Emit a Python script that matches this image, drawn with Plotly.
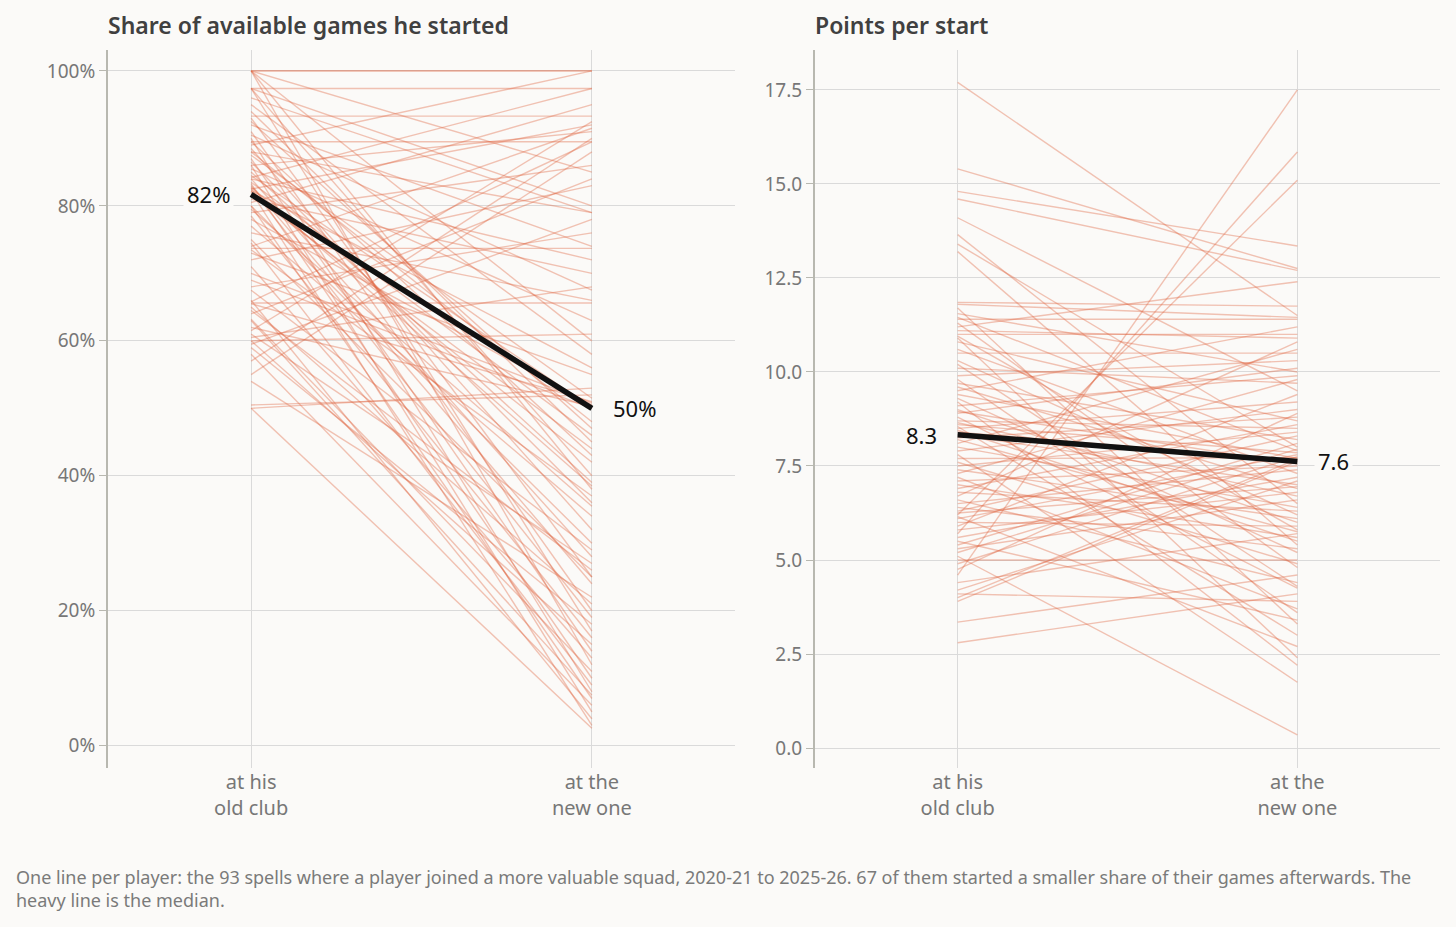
import numpy as np
import plotly.graph_objects as go
from plotly.subplots import make_subplots

# share of available games started, old club -> new club (%), one pair per player
share_old = [100, 100, 89, 97.4, 84.2, 80.5, 93.3, 61.5, 82.5, 74,
             86, 57, 89.5, 65.8, 55, 79, 64, 72, 59.5, 68,
             73.7, 60.5, 65.6, 60, 50, 50.5,
             100, 97.4, 96, 88, 92, 84, 81, 90.5, 76, 85.5,
             100, 95, 82.3, 73, 87.5, 65.5, 70, 78, 62, 84.5, 69,
             100, 100, 97.4, 97.4, 94, 93, 92.5, 91, 90, 89.5,
             88.5, 88, 87, 86.5, 86, 85, 84, 83.5, 83.3, 83,
             82.8, 82.6, 82.2, 82.1, 81.7, 80, 80, 79.5, 78.5, 77,
             75, 74.5, 73.5, 71, 67.5, 66, 65, 64.5, 63.2, 63,
             61, 60, 59, 58, 54, 50]
share_new = [100, 100, 100, 97.4, 97.4, 95, 93.3, 92.5, 92, 91.5,
             91, 90, 89.5, 89.5, 88, 86, 84, 83, 78, 76,
             73.7, 68, 65.6, 61, 53, 52,
             85, 80, 79, 79, 74, 72, 70, 67.5, 66, 63,
             60, 58, 56, 55, 51.5, 51, 50.8, 50.5, 50.3, 50.1, 50.0,
             38, 12, 40, 17, 45, 25, 47, 20, 8, 43,
             32, 48, 14, 36, 5, 39, 28, 46, 10, 24,
             38.5, 19, 42, 3, 44, 30, 7, 35.5, 16, 34,
             25, 9, 37, 13, 29, 4, 21, 26, 11, 7.5,
             27, 15, 18, 6, 22, 2.6]

# points per start, old club -> new club
pts_old = [17.7, 15.4, 14.8, 14.6, 14.1, 13.65, 13.4, 13.2, 11.85, 11.8,
           11.7, 11.55, 11.45, 11.4, 11.3, 11.2, 11.1, 11.0, 10.95, 10.9,
           10.8, 10.6, 10.5, 10.3, 10.2, 10.1, 9.9, 9.8, 9.7, 9.6,
           9.5, 9.4, 9.3, 9.2, 9.1, 9.0, 8.95, 8.9, 8.8, 8.7,
           8.65, 8.6, 8.55, 8.5, 8.45, 8.4, 8.33,
           8.25, 8.2, 8.1, 8.0, 7.9, 7.8, 7.7, 7.6, 7.5, 7.4,
           7.3, 7.2, 7.1, 7.0, 6.9, 6.8, 6.7, 6.6, 6.5, 6.4,
           6.3, 6.25, 6.2, 6.15, 6.1, 6.0, 5.9, 5.8, 5.7, 5.6,
           5.5, 5.4, 5.3, 5.2, 5.1, 5.0, 4.9, 4.75, 4.6, 4.4,
           4.2, 4.1, 4.0, 3.9, 3.35, 2.8]
pts_new = [11.5, 12.75, 13.35, 12.7, 9.5, 6.5, 8.0, 5.4, 11.75, 11.45,
           3.3, 10.0, 7.9, 11.4, 4.8, 12.4, 10.9, 11.0, 5.8, 2.4,
           8.7, 7.3, 10.5, 6.2, 4.3, 9.7, 10.3, 3.6, 8.2, 6.9,
           11.2, 7.7, 5.2, 2.2, 9.9, 6.0, 7.55, 10.1, 4.25, 8.5,
           6.7, 7.85, 3.0, 9.2, 5.5, 7.65, 7.0,
           8.8, 5.75, 10.6, 6.4, 9.0, 1.75, 7.72, 4.9, 8.4, 6.1,
           9.8, 3.7, 7.5, 5.6, 8.6, 6.3, 10.8, 4.4, 7.4, 5.3,
           8.3, 6.95, 15.1, 2.7, 7.8, 5.9, 9.4, 6.8, 15.85, 7.2,
           3.4, 8.1, 6.6, 7.95, 0.35, 5.0, 7.75, 8.9, 17.5, 5.7,
           7.1, 3.9, 7.68, 7.62, 4.6, 4.1]

stages = ['at his<br>old club', 'at the<br>new one']
share_ticks = [0, 20, 40, 60, 80, 100]
share_ticktext = ['0%', '20%', '40%', '60%', '80%', '100%']
pts_ticks = [0, 2.5, 5, 7.5, 10, 12.5, 15, 17.5]

BG = '#FBFAF8'
LINE = 'rgba(224,100,62,0.38)'
GRID = '#DADADA'
FONT = 'Noto Sans'

fig = make_subplots(rows=1, cols=2)

for col, (old, new) in enumerate([(share_old, share_new), (pts_old, pts_new)], start=1):
    for a, b in zip(old, new):
        fig.add_trace(go.Scatter(x=[0, 1], y=[a, b], mode='lines',
                                 line=dict(color=LINE, width=1.4),
                                 hoverinfo='skip', showlegend=False), row=1, col=col)

med = [(np.median(share_old), np.median(share_new)), (np.median(pts_old), np.median(pts_new))]
for col, (m0, m1) in enumerate(med, start=1):
    fig.add_trace(go.Scatter(x=[0, 1], y=[m0, m1], mode='lines',
                             line=dict(color='#111111', width=5.5),
                             hoverinfo='skip', showlegend=False), row=1, col=col)

labels = [(f'{med[0][0]:.0f}%', f'{med[0][1]:.0f}%'), (f'{med[1][0]:.1f}', f'{med[1][1]:.1f}')]
for col, ((m0, m1), (t0, t1)) in enumerate(zip(med, labels), start=1):
    xr = 'x' if col == 1 else 'x2'
    yr = 'y' if col == 1 else 'y2'
    fig.add_annotation(x=0, y=m0, xref=xr, yref=yr, text=t0, showarrow=False,
                       xanchor='right', xshift=-17, font=dict(family=FONT, size=22, color='#111111'),
                       bgcolor=BG, borderpad=3)
    fig.add_annotation(x=1, y=m1, xref=xr, yref=yr, text=t1, showarrow=False,
                       xanchor='left', xshift=17, font=dict(family=FONT, size=22, color='#111111'),
                       bgcolor=BG, borderpad=3)

titles = ['Share of available games he started', 'Points per start']
for col, t in enumerate(titles, start=1):
    xr = 'x domain' if col == 1 else 'x2 domain'
    fig.add_annotation(x=0, y=1 - 25 / 927, xref=xr, yref='paper', text=t, showarrow=False,
                       xanchor='left', yanchor='middle', xshift=-2,
                       font=dict(family=FONT, size=23, color='#404040', weight=600))

fig.add_annotation(x=14 / 1456, y=1 - 888 / 927, xref='paper', yref='paper', showarrow=False,
                   xanchor='left', yanchor='middle', align='left',
                   text='One line per player: the 93 spells where a player joined a more valuable squad, 2020-21 to 2025-26. 67 of them started a smaller share of their games afterwards. The<br>heavy line is the median.',
                   font=dict(family=FONT, size=18, color='#7A7A7A'))

xaxis_style = dict(range=[-0.42, 1.42], tickvals=[0, 1], ticktext=stages, showgrid=True,
                   gridcolor=GRID, zeroline=False, showline=False, ticks='',
                   tickfont=dict(family=FONT, size=20, color='#777777'))
yaxis_style = dict(showgrid=True, gridcolor=GRID, zeroline=False, showline=True,
                   linecolor='#B8B8B0', linewidth=2, ticks='outside', ticklen=7,
                   tickcolor='#B8B8B0', tickfont=dict(family=FONT, size=19, color='#777777'))

fig.update_xaxes(xaxis_style, domain=[108 / 1456, 735 / 1456], row=1, col=1)
fig.update_xaxes(xaxis_style, domain=[815 / 1456, 1440 / 1456], row=1, col=2)
fig.update_yaxes(yaxis_style, range=[-3.3, 103.1], tickvals=share_ticks, ticktext=share_ticktext,
                 domain=[159 / 927, 877 / 927], row=1, col=1)
fig.update_yaxes(yaxis_style, range=[-0.53, 18.56], tickvals=pts_ticks, ticktext=[f'{v:.1f}' for v in pts_ticks],
                 domain=[159 / 927, 877 / 927], row=1, col=2)

fig.update_layout(width=1456, height=927, margin=dict(l=0, r=0, t=0, b=0),
                  paper_bgcolor=BG, plot_bgcolor=BG, showlegend=False)

fig.write_html('out.html', config={'displayModeBar': False},
               post_script='document.body.style.margin="0";document.body.style.background="#FBFAF8";')
